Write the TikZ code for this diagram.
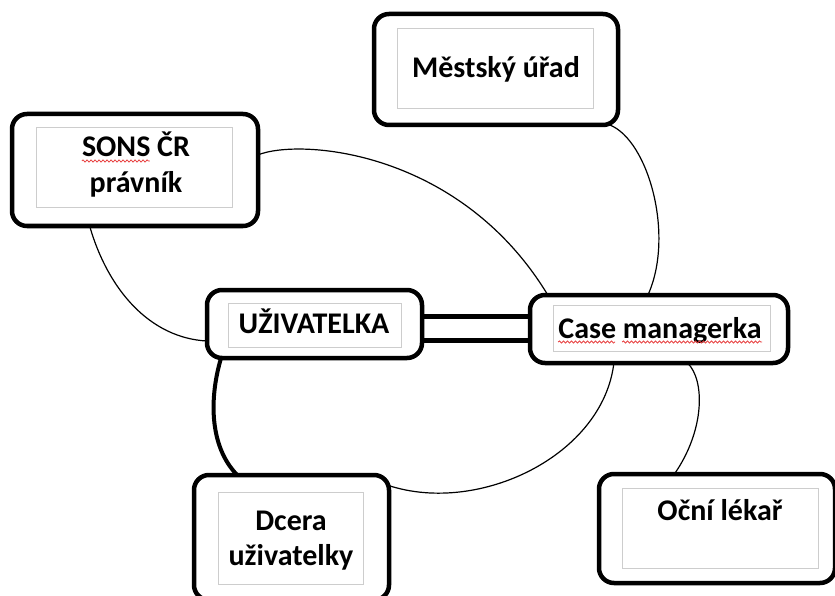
\documentclass[tikz,border=0pt]{standalone}
\usepackage{fontspec}
\setmainfont{Carlito}
\usetikzlibrary{calc,backgrounds,decorations.pathmorphing}
\definecolor{framegray}{RGB}{205,205,205}
\definecolor{spellred}{RGB}{232,64,64}
\begin{document}
\begin{tikzpicture}[x=1pt,y=-1pt,
  card/.style={rectangle, draw=black, line width=4.5pt, rounded corners=15pt,
    fill=white, inner sep=0pt, outer sep=0pt},
  textframe/.style={rectangle, draw=framegray, line width=1pt, inner sep=0pt, outer sep=0pt},
  boxtext/.style={anchor=base, inner sep=0pt, font=\fontsize{30}{36}\selectfont\bfseries},
  link/.style={line width=1.2pt},
  heavylink/.style={line width=4pt},
  twinbar/.style={line width=5pt},
  squiggle/.style={draw=spellred, line width=0.8pt, decorate,
    decoration={snake, amplitude=1.1pt, segment length=4pt}}]

\useasboundingbox (0,0) rectangle (835,596);
\clip (0,0) rectangle (835,596);

% outer rounded cards
\node[card, minimum width=246pt, minimum height=112pt] (sons)    at (135,170)   {};
\node[card, minimum width=244pt, minimum height=111pt] (mestsky) at (496,69.5)  {};
\node[card, minimum width=215pt, minimum height=68pt]  (uziv)    at (314.5,324) {};
\node[card, minimum width=258pt, minimum height=68pt]  (case)    at (659,329)   {};
\node[card, minimum width=195pt, minimum height=125pt] (dcera)   at (291.5,537.5) {};
\node[card, minimum width=236pt, minimum height=109pt] (ocni)    at (717,528.5) {};

% thin grey text frames
\node[textframe, minimum width=196pt, minimum height=80pt] (sonsframe)    at (134,168)   {};
\node[textframe, minimum width=196pt, minimum height=80pt] (mestskyframe) at (495,69)    {};
\node[textframe, minimum width=173pt, minimum height=44pt] (uzivframe)    at (314.5,325) {};
\node[textframe, minimum width=217pt, minimum height=46pt] (caseframe)    at (661.5,328) {};
\node[textframe, minimum width=145pt, minimum height=92pt] (dceraframe)   at (290.5,538) {};
\node[textframe, minimum width=196pt, minimum height=80pt] (ocniframe)    at (720,528)   {};

% labels
\node[boxtext] (sons1)    at (136,157) {SONS ČR};
\node[boxtext] (sons2)    at (136,193) {právník};
\node[boxtext] (mestsky1) at (496,78)  {Městský úřad};
\node[boxtext] (uziv1)    at (314,333) {UŽIVATELKA};
\node[boxtext] (case1)    at (660,338) {Case managerka};
\node[boxtext] (dcera1)   at (291,530) {Dcera};
\node[boxtext] (dcera2)   at (291,565) {uživatelky};
\node[boxtext] (ocni1)    at (720,520) {Oční lékař};

% spell-check underlines
\draw[squiggle] ([yshift=-4pt]sons1.base west) -- ++(68,0);
\draw[squiggle] ([yshift=-4pt]case1.base west) -- ++(57,0);
\draw[squiggle] ([yshift=-4pt,xshift=64pt]case1.base west) -- ++(140,0);

% connectors behind the cards
\begin{scope}[on background layer]
  \draw[link] (sons.231) .. controls (108,290) and (150,338) .. (uziv.189);
  \draw[link] (sons.7) .. controls (300,138) and (460,150) .. (case.163);
  \draw[link] (mestsky.334) .. controls (648,140) and (675,235) .. (case.108);
  \draw[link] (case.217) .. controls (603,455) and (480,515) .. (dcera.28);
  \draw[link] (case.310) .. controls (705,380) and (705,430) .. (ocni.128);
  \draw[heavylink] (uziv.200) .. controls (210,395) and (208,445) .. (dcera.131);
  \draw[twinbar] ([yshift=8pt]uziv.east) -- ([yshift=8pt]uziv.east -| case.west);
  \draw[twinbar] ([yshift=-16pt]uziv.east) -- ([yshift=-16pt]uziv.east -| case.west);
\end{scope}
\end{tikzpicture}
\end{document}
